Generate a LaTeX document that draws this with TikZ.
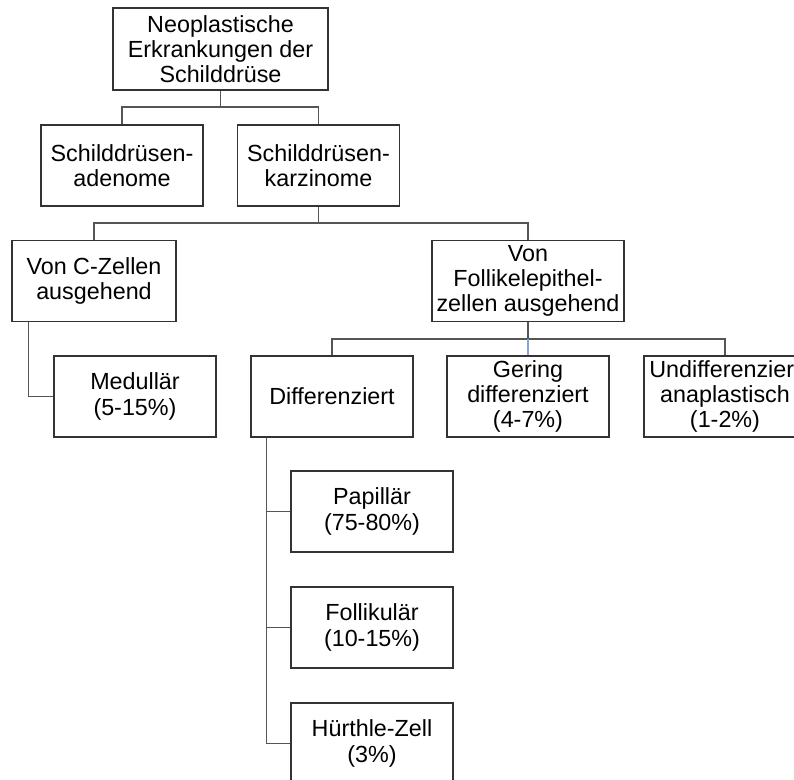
\documentclass[tikz,border=0pt]{standalone}
\usepackage{fontspec}
\setmainfont{Liberation Sans}
\usepackage{tikz}
\usetikzlibrary{positioning}

\definecolor{boxline}{HTML}{333333}
\definecolor{linkline}{HTML}{555555}
\definecolor{hilite}{HTML}{7EA6E0}

\begin{document}
\begin{tikzpicture}[x=0.75pt,y=-0.75pt,
    box/.style={draw=boxline,line width=1.1pt,align=center,inner sep=0pt,
      minimum width=121.5pt,minimum height=61pt,
      font=\fontsize{17.5}{18.9}\selectfont},
    link/.style={draw=linkline,line width=1.1pt}]
  \clip (0,0) rectangle (794,780);
  \fill[white] (0,0) rectangle (794,780);

  % levels 1 and 2
  \node[box,minimum width=161pt,minimum height=61.5pt] (top) at (220.5,49)
    {Neoplastische\\Erkrankungen der\\Schilddrüse};
  \node[box] (aden) at (122,165.5) {Schilddrüsen-\\adenome};
  \node[box] (karz) at (318.5,165.5) {Schilddrüsen-\\karzinome};

  % level 3
  \node[box,minimum width=123pt] (czell) at (94,281) {Von C-Zellen\\ausgehend};
  \node[box,minimum width=144pt] (folli) at (528,281)
    {Von\\Follikelepithel-\\zellen ausgehend};

  % level 4
  \node[box] (medul) at (135,396.5) {Medullär\\(5-15\%)};
  \node[box] (diff) at (332,396.5) {Differenziert};
  \node[box] (gering) at (528,396.5) {Gering\\differenziert\\(4-7\%)};
  \node[box] (undiff) at (725,396.5) {Undifferenziert\\anaplastisch\\(1-2\%)};

  % level 5
  \node[box] (papil) at (372,511.5) {Papillär\\(75-80\%)};
  \node[box] (follik) at (372,627.5) {Follikulär\\(10-15\%)};
  \node[box] (huerth) at (372,743.5) {Hürthle-Zell\\(3\%)};

  \coordinate (busA) at (0,107);
  \coordinate (busB) at (0,223);
  \coordinate (busC) at (0,339);

  \draw[link] (top.south) -- (top.south |- busA) -| (aden.north);
  \draw[link] (top.south |- busA) -| (karz.north);
  \draw[link] (karz.south) -- (karz.south |- busB) -| (czell.north);
  \draw[link] (karz.south |- busB) -| (folli.north);
  \draw[link] (folli.south) -- (folli.south |- busC) -| (diff.north);
  \draw[link] (folli.south |- busC) -| (undiff.north);
  \draw[link,draw=hilite] (folli.south |- busC) -- (gering.north);

  \draw[link] ([xshift=12.75pt]czell.south west) |- (medul.west);
  \draw[link] ([xshift=12pt]diff.south west) |- (papil.west);
  \draw[link] ([xshift=12pt]diff.south west) |- (follik.west);
  \draw[link] ([xshift=12pt]diff.south west) |- (huerth.west);
\end{tikzpicture}
\end{document}
